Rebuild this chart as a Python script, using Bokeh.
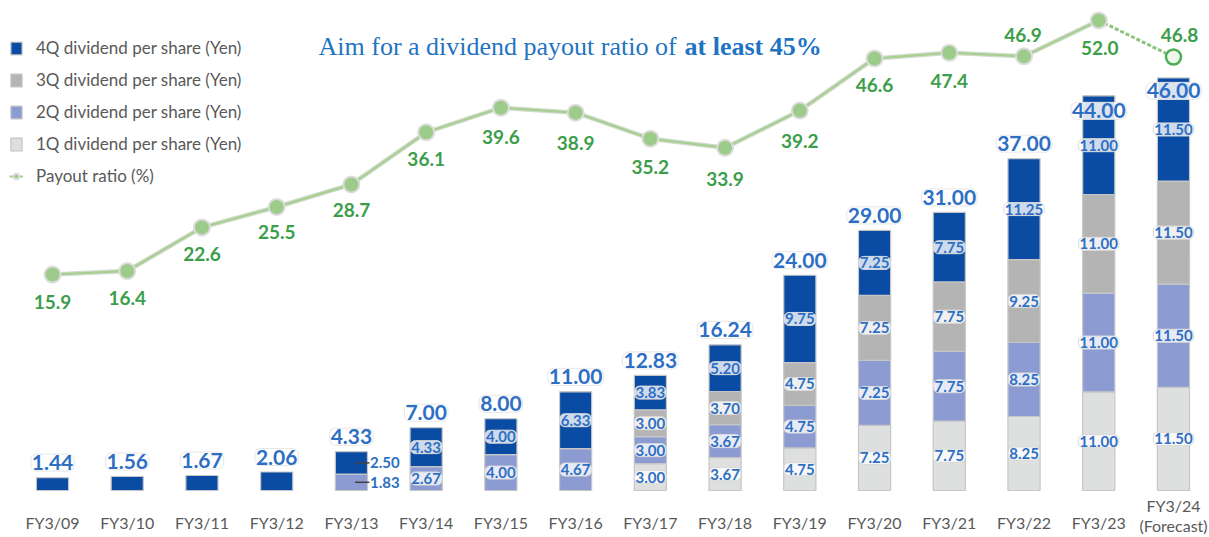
from bokeh.plotting import figure
from bokeh.models import Range1d, ColumnDataSource, Legend, LegendItem, Label
from bokeh.core.properties import value
from bokeh.embed import file_html
from bokeh.resources import INLINE

# ---------------- data ----------------
years = ["FY3/09", "FY3/10", "FY3/11", "FY3/12", "FY3/13", "FY3/14", "FY3/15", "FY3/16",
         "FY3/17", "FY3/18", "FY3/19", "FY3/20", "FY3/21", "FY3/22", "FY3/23", "FY3/24\n(Forecast)"]
q1 = [0, 0, 0, 0, 0, 0, 0, 0, 3.00, 3.67, 4.75, 7.25, 7.75, 8.25, 11.00, 11.50]
q2 = [0, 0, 0, 0, 1.83, 2.67, 4.00, 4.67, 3.00, 3.67, 4.75, 7.25, 7.75, 8.25, 11.00, 11.50]
q3 = [0, 0, 0, 0, 0, 0, 0, 0, 3.00, 3.70, 4.75, 7.25, 7.75, 9.25, 11.00, 11.50]
q4 = [1.44, 1.56, 1.67, 2.06, 2.50, 4.33, 4.00, 6.33, 3.83, 5.20, 9.75, 7.25, 7.75, 11.25, 11.00, 11.50]
totals = [1.44, 1.56, 1.67, 2.06, 4.33, 7.00, 8.00, 11.00, 12.83, 16.24, 24.00, 29.00, 31.00, 37.00, 44.00, 46.00]
payout = [15.9, 16.4, 22.6, 25.5, 28.7, 36.1, 39.6, 38.9, 35.2, 33.9, 39.2, 46.6, 47.4, 46.9, 52.0, 46.8]
series_names = ["1Q dividend per share (Yen)", "2Q dividend per share (Yen)",
                "3Q dividend per share (Yen)", "4Q dividend per share (Yen)"]
ratio_name = "Payout ratio (%)"
title_plain = "Aim for a dividend payout ratio of"
title_bold = "at least 45%"

# ---------------- style ----------------
COLORS = ["#dedfdf", "#8c9cd2", "#b4b4b4", "#0a4ca3"]
EDGE = "#c6c6c6"
LBL_BLUE = "#2e6fc4"
GREEN_TXT = "#3c9e4a"
GRAY_TXT = "#595959"
TITLE_C = "#1f74c2"
FONT = "Lato"
BAR_W = 0.43
N = len(years)
xs = list(range(N))
# per-label placement (screen px)
ratio_dy = [27, 27, 27, 25, 26, 27, 29, 30, 28, 31, 30, 27, 28, -21, 28, -22]
ratio_dx = [0, 0, 0, 0, 0, 0, 0, 0, 0, 0, 0, 0, 0, -1, 1, 6]
total_dy = [-15] * (N - 2) + [15, 13]
xlabel_dy = [32] * (N - 1) + [25]

W, H = 1209, 537
p = figure(width=W, height=H, output_backend="svg", toolbar_location=None,
           x_axis_type=None, y_axis_type=None,
           x_range=Range1d(-0.6958, 15.482), y_range=Range1d(-5.24, 54.63),
           min_border=0, min_border_left=0, min_border_right=0,
           min_border_top=0, min_border_bottom=0)
p.outline_line_color = None
p.background_fill_color = "white"
p.border_fill_color = "white"
p.extra_y_ranges = {"ratio": Range1d(-21.45, 54.83)}

# ---------------- stacked bars ----------------
bottom = [0.0] * N
bar_renderers = []
for k, vals in enumerate([q1, q2, q3, q4]):
    xx, bb, tt, mid, lab = [], [], [], [], []
    for i in range(N):
        v = vals[i]
        if v > 0:
            xx.append(i)
            bb.append(bottom[i])
            tt.append(bottom[i] + v)
            mid.append(bottom[i] + v / 2)
            lab.append("%.2f" % v)
    src = ColumnDataSource(dict(x=xx, bottom=bb, top=tt, mid=mid, lab=lab))
    r = p.vbar(x="x", bottom="bottom", top="top", width=BAR_W, source=src,
               fill_color=COLORS[k], line_color=EDGE, line_width=1.2)
    bar_renderers.append((r, src))
    for i in range(N):
        bottom[i] += vals[i]

# segment labels (from FY3/14 onwards)
for k, (r, src) in enumerate(bar_renderers):
    d = src.data
    sel = [j for j, x in enumerate(d["x"]) if x >= 5]
    s2 = ColumnDataSource(dict(x=[d["x"][j] for j in sel], y=[d["mid"][j] for j in sel],
                               t=[d["lab"][j] for j in sel]))
    p.text(x="x", y="y", text="t", source=s2, text_font=value(FONT), text_font_size="15px",
           text_font_style="bold", text_color=LBL_BLUE, text_align="center",
           text_baseline="middle", background_fill_color="white", background_fill_alpha=0.8,
           border_line_color="#dadada", border_line_width=1, padding=1, border_radius=5)

# FY3/13 side labels with leader lines
i13 = 4
side_y = [q2[i13] / 2, q2[i13] + q4[i13] / 2]
side_t = ["%.2f" % q2[i13], "%.2f" % q4[i13]]
side = ColumnDataSource(dict(x0=[i13 + 0.05] * 2, x1=[i13 + 0.24] * 2, y=side_y, t=side_t,
                             xt=[i13 + 0.25] * 2))
p.segment(x0="x0", y0="y", x1="x1", y1="y", source=side, line_color="#404040", line_width=1.5)
p.text(x="xt", y="y", text="t", source=side, text_font=value(FONT), text_font_size="15px",
       text_font_style="bold", text_color=LBL_BLUE, text_align="left", text_baseline="middle")

# totals
tsrc = ColumnDataSource(dict(x=xs, y=totals, t=["%.2f" % v for v in totals], dy=total_dy))
p.text(x="x", y="y", text="t", source=tsrc, text_font=value(FONT), text_font_size="21px",
       text_font_style="bold", text_color=LBL_BLUE, text_align="center",
       text_baseline="middle", y_offset="dy", background_fill_color="white",
       background_fill_alpha=0.85, border_line_color="#e6e6e6", border_line_width=1,
       padding=1, border_radius=6)

# ---------------- payout ratio line ----------------
lsrc = ColumnDataSource(dict(x=xs[:-1], y=payout[:-1]))
fsrc = ColumnDataSource(dict(x=xs[-2:], y=payout[-2:]))
p.line(x="x", y="y", source=lsrc, y_range_name="ratio", line_color="#cfd9c9", line_width=4.5)
rl_in = p.line(x="x", y="y", source=lsrc, y_range_name="ratio", line_color="#a6cf90", line_width=2)
p.line(x="x", y="y", source=fsrc, y_range_name="ratio", line_color="#8fc27d", line_width=3,
       line_dash="4 2")
msrc = ColumnDataSource(dict(x=xs[:-1], y=payout[:-1]))
rm = p.scatter(x="x", y="y", source=msrc, y_range_name="ratio", size=16, marker="circle",
               fill_color="#9dcb8a", line_color="#dcdcdc", line_width=2)
lastsrc = ColumnDataSource(dict(x=xs[-1:], y=payout[-1:]))
p.scatter(x="x", y="y", source=lastsrc, y_range_name="ratio", size=15, marker="circle",
          fill_color="#eef7ea", line_color="#4cae5a", line_width=2.5)

psrc = ColumnDataSource(dict(x=xs, y=payout, t=["%.1f" % v for v in payout],
                             dy=ratio_dy, dx=ratio_dx))
p.text(x="x", y="y", text="t", source=psrc, y_range_name="ratio", text_font=value(FONT),
       text_font_size="19px", text_font_style="bold", text_color=GREEN_TXT,
       text_align="center", text_baseline="middle", x_offset="dx", y_offset="dy")

# ---------------- category labels ----------------
xsrc = ColumnDataSource(dict(x=xs, y=[0] * N, t=years, dy=xlabel_dy))
p.text(x="x", y="y", text="t", source=xsrc, text_font=value(FONT), text_font_size="16px",
       text_color=GRAY_TXT, text_align="center", text_baseline="middle", y_offset="dy",
       text_line_height=1.05)

# ---------------- legend ----------------
items = [LegendItem(label=series_names[3], renderers=[bar_renderers[3][0]]),
         LegendItem(label=series_names[2], renderers=[bar_renderers[2][0]]),
         LegendItem(label=series_names[1], renderers=[bar_renderers[1][0]]),
         LegendItem(label=series_names[0], renderers=[bar_renderers[0][0]]),
         LegendItem(label=ratio_name, renderers=[rl_in, rm])]
legend = Legend(items=items, location=(9, 351), orientation="vertical",
                glyph_width=14, glyph_height=16, label_height=16, spacing=11,
                label_standoff=13, padding=0, margin=0, border_line_color=None,
                background_fill_alpha=0, label_text_font=FONT, label_text_font_size="17px",
                label_text_color=GRAY_TXT)
p.add_layout(legend)

# ---------------- title ----------------
p.add_layout(Label(x=318, y=491, x_units="screen", y_units="screen", text=title_plain,
                   text_font="Liberation Serif", text_font_size="26px", text_color=TITLE_C,
                   text_baseline="alphabetic", text_align="left"))
p.add_layout(Label(x=684, y=491, x_units="screen", y_units="screen", text=title_bold,
                   text_font="Liberation Serif", text_font_size="26px", text_font_style="bold",
                   text_color=TITLE_C, text_baseline="alphabetic", text_align="left"))

open("out.html", "w").write(file_html(p, INLINE))
